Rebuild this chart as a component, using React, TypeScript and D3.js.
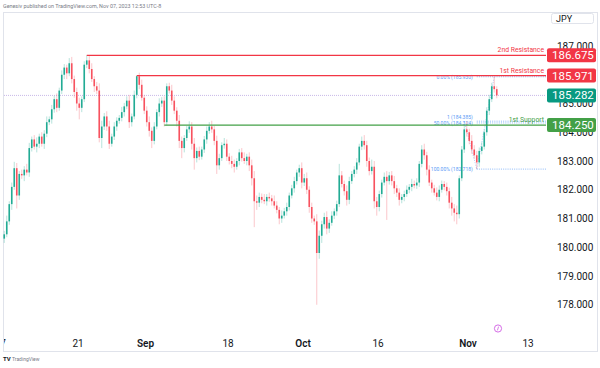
import * as d3 from "d3"

// 8h candles, USD/JPY, from Aug 7 (trading-day index 0)
const closes = [
  180.45, 180.9, 181.5, 182.1, 182.75, 181.8, 182.55, 182.5, 182.7, 182.6,
  183.45, 183.75, 183.5, 183.6, 183.85, 183.6, 183.95, 184.35, 184.45, 184.8,
  185.15, 184.85, 185.45, 186.0, 186.25, 186.05, 186.4, 185.85, 185.4, 185.0,
  184.85, 185.15, 186.35, 186.5, 186.2, 185.85, 185.6, 185.45, 183.8, 184.2,
  184.55, 184.2, 183.6, 183.85, 184.2, 184.4, 184.5, 184.7, 184.9, 185.1,
  184.35, 184.55, 185.3, 185.95, 185.65, 185.2, 184.75, 184.35, 184.05, 183.7,
  184.2, 184.7, 185.0, 185.1, 184.35, 185.6, 185.45, 185.1, 184.75, 184.4,
  183.7, 183.45, 183.8, 184.1, 184.2, 183.6, 183.1, 183.35, 183.15, 183.4,
  183.75, 184.05, 184.2, 184.1, 183.7, 182.85, 183.1, 183.55, 183.6, 183.15,
  183.0, 182.9, 182.8, 183.0, 183.3, 183.1, 183.0, 183.15, 182.85, 182.4,
  181.6, 181.55, 181.75, 181.65, 181.6, 181.75, 181.7, 181.6, 181.45, 181.3,
  181.0, 181.1, 181.25, 181.4, 181.8, 182.05, 182.3, 182.6, 182.75, 182.25,
  182.4, 182.0, 181.4, 181.0, 180.9, 179.8, 180.4, 180.8, 181.05, 180.65,
  180.85, 181.1, 181.25, 181.5, 182.5, 182.2, 181.95, 181.65, 182.3, 182.55,
  182.7, 182.95, 183.5, 183.7, 183.55, 183.0, 182.65, 182.8, 181.6, 181.4,
  181.85, 182.25, 182.45, 182.3, 182.5, 182.3, 182.05, 181.9, 181.65, 181.75,
  181.85, 182.0, 182.1, 182.2, 182.15, 182.25, 182.9, 183.4, 183.2, 182.7,
  182.25, 182.05, 181.9, 181.75, 182.0, 182.2, 182.1, 181.95, 181.55, 181.35,
  181.2, 181.15, 182.4, 183.4, 184.1, 184.0, 183.7, 183.4, 183.2, 182.95,
  183.35, 183.5, 184.0, 184.75, 185.15, 185.6, 185.5, 185.282,
]
const firstOpen = 180.3

const upperWick = [
  .12, .20, .10, .15, .22, .18, .10, .15, .12, .20,
  .18, .10, .15, .22, .10, .15, .12, .20, .10, .15,
  .12, .20, .10, .15, .12, .10, .18, .22, .12, .15,
  .20, .10, .12, .175, .15, .20, .10, .15, .25, .20,
  .12, .18, .20, .10, .15, .12, .10, .18, .12, .15,
  .20, .10, .15, .02, .12, .18, .10, .15, .20, .12,
  .15, .10, .18, .12, .15, .10, .12, .20, .15, .12,
  .20, .15, .10, .12, .18, .15, .20, .12, .15, .10,
  .12, .15, .15, .20, .12, .18, .15, .10, .20, .15,
  .12, .18, .15, .10, .12, .15, .20, .10, .15, .20,
  .25, .20, .15, .12, .20, .10, .15, .12, .20, .15,
  .10, .18, .12, .15, .10, .12, .15, .10, .12, .20,
  .15, .20, .12, .15, .10, .25, .18, .12, .15, .20,
  .12, .15, .10, .12, .40, .15, .12, .20, .15, .10,
  .12, .15, .10, .15, .20, .15, .12, .25, .20, .15,
  .12, .10, .15, .20, .12, .15, .18, .12, .15, .10,
  .12, .15, .10, .18, .12, .15, .10, .15, .20, .12,
  .15, .10, .12, .18, .15, .12, .10, .15, .12, .20,
  .15, .25, .10, .12, .15, .285, .12, .20, .15, .15,
  .12, .15, .10, .12, .15, .12, .33, .10,
]

const lowerWick = [
  .15, .10, .12, .20, .10, .45, .15, .12, .20, .10,
  .15, .12, .10, .20, .15, .10, .18, .12, .10, .15,
  .12, .15, .10, .12, .15, .20, .10, .15, .20, .25,
  .40, .15, .10, .12, .15, .10, .20, .12, .15, .35,
  .12, .15, .18, .10, .12, .15, .10, .12, .15, .10,
  .20, .15, .10, .12, .15, .10, .12, .15, .20, .25,
  .12, .10, .15, .12, .15, .12, .10, .15, .12, .20,
  .25, .35, .15, .10, .12, .20, .40, .15, .12, .10,
  .12, .15, .10, .12, .15, .30, .15, .10, .12, .15,
  .12, .15, .20, .10, .15, .12, .10, .15, .20, .25,
  .90, .25, .15, .12, .10, .15, .12, .15, .10, .12,
  .20, .15, .10, .15, .12, .10, .15, .12, .15, .20,
  .12, .15, .20, .15, .12, 1.80, .20, .25, .15, .20,
  .15, .10, .12, .15, .10, .12, .15, .20, .15, .10,
  .12, .15, .10, .12, .15, .20, .15, .12, .25, .30,
  .15, .12, .10, 1.35, .12, .15, .20, .15, .20, .12,
  .15, .10, .12, .15, .10, .12, .15, .12, .15, .20,
  .12, .15, .10, .12, .15, .10, .12, .15, .20, .25,
  .30, .35, .15, .10, .12, .15, .12, .15, .12, .23,
  .15, .12, .10, .12, .15, .10, .12, .10,
]

const barsPerDay = 3

// x axis: trading-day index from Aug 7
const tickDays = [0, 10, 19, 30, 40, 50, 62, 70]
const tickLabels = ["7", "21", "Sep", "18", "Oct", "16", "Nov", "13"]
const monthTicks = ["Sep", "Oct", "Nov"]

// 186.000 sits fully under the 185.971 box, so it is left out
const priceTicks = [178, 179, 180, 181, 182, 183, 184, 185, 187]

// key levels: price, label, start bar
const levelPrices = [186.675, 185.971, 184.25]
const levelNames = ["2nd Resistance", "1st Resistance", "1st Support"]
const levelStartBar = [33, 53, 64]
const levelColors = ["#f23645", "#f23645", "#43a047"]

// fib retracement
const fibPrices = [185.93, 184.385, 184.324, 182.718]
const fibLabels = ["0.00% (185.930)", "1 (184.385)", "50.00% (184.324)", "100.00% (182.718)"]
const fibAnchorBar = 189
const fibHighBar = 196
const fibPrevHighBar = 184

const lastPrice = 185.282

const W = 600
const H = 368
const plotRight = 546
const font = "Roboto, 'Liberation Sans', Arial, sans-serif"

export default function App() {
  const x = d3.scaleLinear().domain([0, 70]).range([3, 528])
  const y = d3.scaleLinear().domain([178, 187]).range([304.75, 46])

  const barX = (i: number) => x((i + 0.5) / barsPerDay)
  const bars = closes.map((c, i) => {
    const o = i === 0 ? firstOpen : closes[i - 1]
    return {
      i,
      o,
      c,
      h: Math.max(o, c) + upperWick[i],
      l: Math.min(o, c) - lowerWick[i],
      cx: barX(i),
    }
  })
  const bodyW = 1.6

  const fibX0 = barX(fibAnchorBar)

  return (
    <svg width={W} height={H} style={{ position: "absolute", left: 0, top: 0, background: "#fff" }} fontFamily={font}>
      <defs>
        <clipPath id="xclip">
          <rect x={4} y={320} width={590} height={40} />
        </clipPath>
      </defs>

      {/* header */}
      <text x={3} y={7.5} fontSize={5.4} fill="#787b86">
        Genesiv published on TradingView.com, Nov 07, 2023 12:53 UTC-8
      </text>

      {/* frame */}
      <rect x={3.5} y={12.5} width={594} height={339} fill="none" stroke="#e0e3eb" strokeWidth={1} />

      {/* JPY box */}
      <rect x={551.5} y={13.5} width={42} height={10} rx={2} fill="#fff" stroke="#e0e3eb" />
      <text x={556} y={21.5} fontSize={9} fill="#131722">JPY</text>

      {/* price axis labels */}
      {priceTicks.map((p) => (
        <text key={p} x={557} y={y(p) + 3.5} fontSize={10} fill="#131722">
          {p.toFixed(3)}
        </text>
      ))}

      {/* last price dotted line */}
      <line x1={4} x2={plotRight} y1={y(lastPrice)} y2={y(lastPrice)} stroke="#c9b8e8" strokeWidth={1} strokeDasharray="1,1" />

      {/* fib retracement */}
      {fibPrices.map((p, k) => (
        <g key={p}>
          <line x1={fibX0} x2={plotRight} y1={y(p)} y2={y(p)} stroke="#5b9cf6" strokeWidth={0.8} strokeDasharray="1,1.2" opacity={0.85} />
          <text
            x={fibX0 - 4}
            y={k === 1 ? y(p) - 2.5 : k === 2 ? y(p) + 2.5 : y(p) + 2}
            fontSize={5}
            textAnchor="end"
            fill="#5b9cf6"
          >
            {fibLabels[k]}
          </text>
        </g>
      ))}
      <line x1={barX(fibPrevHighBar)} y1={y(fibPrices[1])} x2={fibX0} y2={y(fibPrices[3])} stroke="#5b9cf6" strokeWidth={0.7} strokeDasharray="1,1.5" opacity={0.7} />
      <line x1={fibX0} y1={y(fibPrices[3])} x2={barX(fibHighBar)} y2={y(fibPrices[0])} stroke="#5b9cf6" strokeWidth={0.7} strokeDasharray="1,1.5" opacity={0.7} />

      {/* candles */}
      {bars.map((b) => {
        const up = b.c >= b.o
        const col = up ? "#22ab94" : "#f7525f"
        const top = y(Math.max(b.o, b.c))
        const bh = Math.max(1, Math.abs(y(b.o) - y(b.c)))
        return (
          <g key={b.i}>
            <line x1={b.cx} x2={b.cx} y1={y(b.h)} y2={y(b.l)} stroke={col} strokeWidth={0.8} opacity={0.4} />
            <rect x={b.cx - bodyW / 2} y={top} width={bodyW} height={bh} fill={col} />
          </g>
        )
      })}

      {/* key levels */}
      {levelPrices.map((p, k) => (
        <g key={p}>
          <line x1={barX(levelStartBar[k])} x2={plotRight} y1={y(p)} y2={y(p)} stroke={levelColors[k]} strokeWidth={1.3} />
          <text x={544} y={y(p) - 3} fontSize={6.8} textAnchor="end" fill={levelColors[k]}>
            {levelNames[k]}
          </text>
        </g>
      ))}

      {/* price boxes */}
      {[...levelPrices, lastPrice].map((p, k) => {
        const fill = k < 2 ? "#f23645" : k === 2 ? "#43a047" : "#089981"
        return (
          <g key={"b" + p}>
            <rect x={547} y={y(p) - 7} width={49} height={14} rx={2} fill={fill} />
            <text x={552} y={y(p) + 4} fontSize={11.5} fill="#fff">
              {p.toFixed(3)}
            </text>
          </g>
        )
      })}

      {/* x axis labels */}
      <g clipPath="url(#xclip)">
        {tickDays.map((d, k) => (
          <text
            key={d}
            x={x(d)}
            y={347}
            fontSize={10}
            textAnchor="middle"
            fill="#131722"
            fontWeight={monthTicks.includes(tickLabels[k]) ? 600 : 400}
          >
            {tickLabels[k]}
          </text>
        ))}
      </g>

      {/* event marker */}
      <circle cx={498} cy={328.5} r={3.6} fill="#fff" stroke="#d05ce3" strokeWidth={0.9} />
      <line x1={498.6} y1={326.6} x2={497.4} y2={330.4} stroke="#d05ce3" strokeWidth={0.8} />

      {/* logo */}
      <text x={3} y={361} fontSize={6} fontWeight={700} fill="#131722">TV</text>
      <text x={12} y={361} fontSize={5} fill="#787b86">TradingView</text>
    </svg>
  )
}
